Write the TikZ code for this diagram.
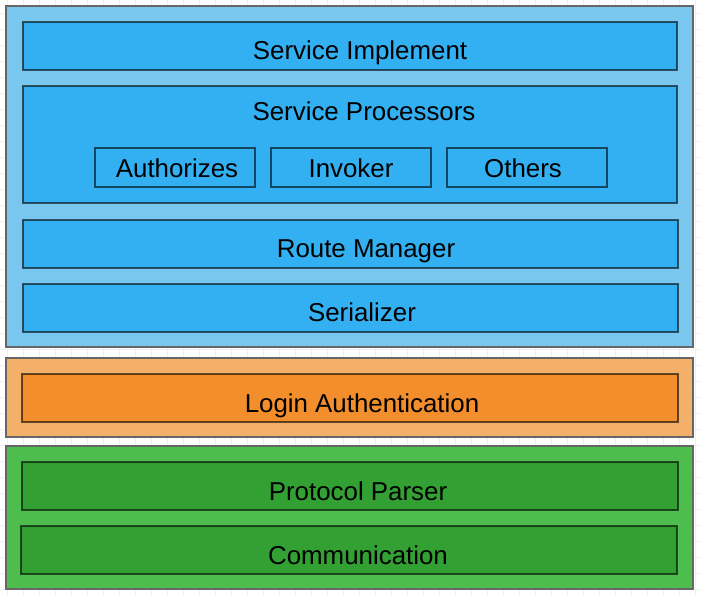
\documentclass[tikz,border=0pt]{standalone}
\usepackage{fontspec}
\setmainfont{Liberation Sans}
\definecolor{blueout}{RGB}{121,198,238}
\definecolor{bluein}{RGB}{51,176,242}
\definecolor{orangeout}{RGB}{244,176,104}
\definecolor{orangein}{RGB}{242,142,43}
\definecolor{greenout}{RGB}{77,189,77}
\definecolor{greenin}{RGB}{51,160,51}

\begin{document}
\begin{tikzpicture}[x = 0.025cm, y = -0.025cm,
    outer/.style = {draw = black!60, line width = 1pt},
    inner/.style = {draw = black, draw opacity = 0.6, line width = 1pt},
    txt/.style = {anchor = base, inner sep = 0pt, font = \fontsize{18.4}{22}\selectfont}]
    \useasboundingbox (0,0) rectangle (702,596);
    \foreach \x in {7,23,...,695} \draw [black!6, line width = 0.6pt] (\x,0) -- (\x,596);
    \foreach \y in {13,29,...,589} \draw [black!6, line width = 0.6pt] (0,\y) -- (702,\y);

    % service layer
    \draw [outer, fill = blueout] (6,6) rectangle (693,347);
    \draw [inner, fill = bluein] (23,22) rectangle (677,70);
    \draw [inner, fill = bluein] (23,86) rectangle (677,203);
    \draw [inner, fill = bluein] (95,148) rectangle (255,187);
    \draw [inner, fill = bluein] (271,148) rectangle (431,187);
    \draw [inner, fill = bluein] (447,148) rectangle (607,187);
    \draw [inner, fill = bluein] (23,220) rectangle (678,268);
    \draw [inner, fill = bluein] (23,284) rectangle (678,332);
    \node [txt] (impl) at (360,59.5) {Service Implement};
    \node [txt] (proc) at (364,121) {Service Processors};
    \node [txt] (auth) at (177,178) {Authorizes};
    \node [txt] (inv) at (351,178) {Invoker};
    \node [txt] (oth) at (523,178) {Others};
    \node [txt] (route) at (366,258) {Route Manager};
    \node [txt] (ser) at (362,322) {Serializer};

    % login layer
    \draw [outer, fill = orangeout] (6,358) rectangle (693,437);
    \draw [inner, fill = orangein] (22,374) rectangle (678,422);
    \node [txt] (login) at (362,412) {Login Authentication};

    % transport layer
    \draw [outer, fill = greenout] (6,446) rectangle (693,589);
    \draw [inner, fill = greenin] (22,462) rectangle (678,510);
    \draw [inner, fill = greenin] (21,526) rectangle (677,574);
    \node [txt] (parser) at (358,500) {Protocol Parser};
    \node [txt] (comm) at (358,564) {Communication};
\end{tikzpicture}
\end{document}
